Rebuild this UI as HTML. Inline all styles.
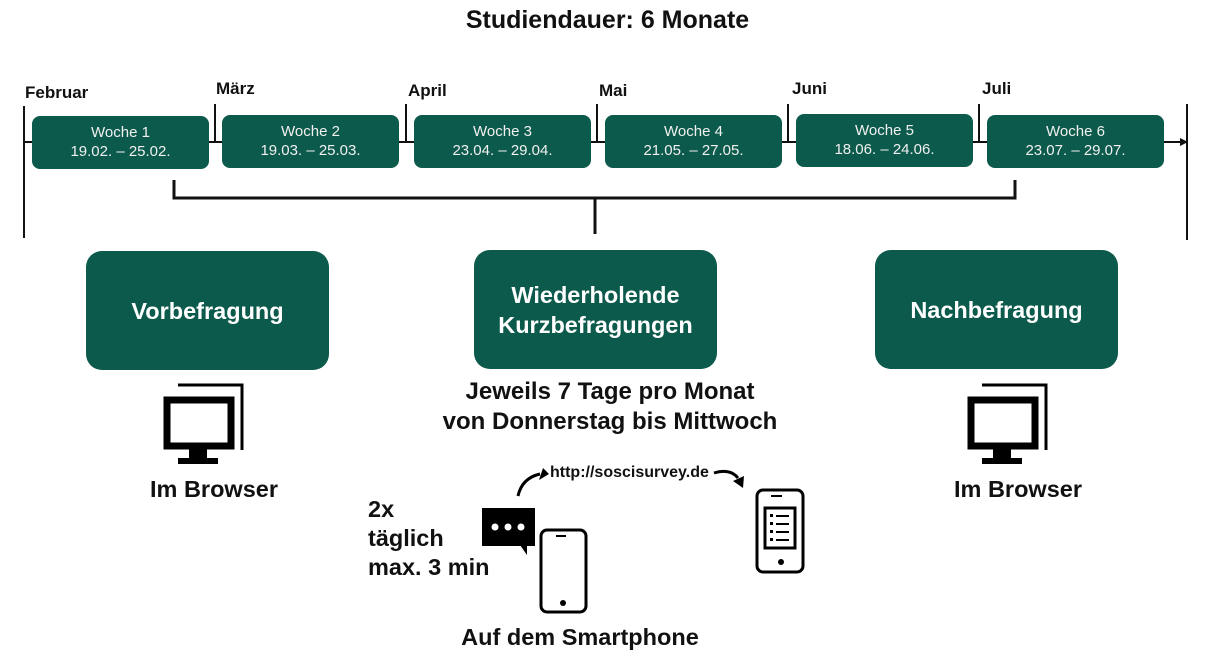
<!DOCTYPE html>
<html><head><meta charset="utf-8"><style>
body{margin:0;width:1215px;height:663px;background:#fff;position:relative;overflow:hidden;font-family:"Liberation Sans",sans-serif;color:#111}
.a{position:absolute}
.w{position:absolute;background:#0c5a4b;border-radius:8px;color:#f0f0f0;font-size:15px;text-align:center;line-height:19px;padding-top:7px;box-sizing:border-box;height:53px;width:177px}
.m{position:absolute;font-weight:bold;font-size:17px}
.B{position:absolute;background:#0c5a4b;border-radius:16px;color:#fff;font-weight:bold;font-size:23.5px;display:flex;align-items:center;justify-content:center;text-align:center;line-height:30px;width:243px;height:119px}
.t{position:absolute;font-weight:bold;font-size:23.5px;text-align:center}
</style></head><body>
<div class="t" style="left:0;width:1215px;top:6px;font-size:25px">Studiendauer: 6 Monate</div>
<svg class="a" style="left:0;top:0" width="1215" height="663">
<g stroke="#111" stroke-width="2" fill="none">
<line x1="24" y1="142" x2="1180" y2="142"/>
<line x1="24" y1="106" x2="24" y2="238"/>
<line x1="1187" y1="104" x2="1187" y2="240"/>
<line x1="215" y1="104" x2="215" y2="142"/>
<line x1="406" y1="104" x2="406" y2="142"/>
<line x1="597" y1="104" x2="597" y2="142"/>
<line x1="788" y1="104" x2="788" y2="142"/>
<line x1="979" y1="104" x2="979" y2="142"/>
<polyline stroke-width="3" points="174,180 174,198 1015,198 1015,180"/>
<line stroke-width="3" x1="595" y1="198" x2="595" y2="234"/>
</g>
<polygon points="1188,142 1180,138 1180,146" fill="#111"/>
<g id="mon">
<path d="M178,385 H242 V450" stroke="#000" stroke-width="3" fill="none"/>
<rect x="167" y="400" width="64" height="46" fill="none" stroke="#000" stroke-width="7"/>
<rect x="189" y="449" width="18" height="10" fill="#000"/>
<rect x="178" y="458" width="40" height="6" fill="#000"/>
</g>
<use href="#mon" x="804" y="0"/>
<rect x="482" y="508" width="53" height="38" fill="#000"/>
<polygon points="520,545 527,545 527,555" fill="#000"/>
<circle cx="495" cy="527" r="3.5" fill="#fff"/><circle cx="508" cy="527" r="3.5" fill="#fff"/><circle cx="521" cy="527" r="3.5" fill="#fff"/>
<rect x="541" y="530" width="45" height="82" rx="6" fill="none" stroke="#000" stroke-width="3"/>
<line x1="556" y1="536" x2="566" y2="536" stroke="#000" stroke-width="2"/>
<circle cx="563" cy="603" r="3" fill="#000"/>
<rect x="757" y="490" width="46" height="82" rx="6" fill="none" stroke="#000" stroke-width="3"/>
<line x1="771" y1="496" x2="782" y2="496" stroke="#000" stroke-width="2"/>
<circle cx="781" cy="562" r="3" fill="#000"/>
<rect x="765" y="508" width="30" height="40" fill="none" stroke="#000" stroke-width="3"/>
<g fill="#000"><rect x="770" y="514" width="3" height="3"/><rect x="770" y="522" width="3" height="3"/><rect x="770" y="530" width="3" height="3"/><rect x="770" y="538" width="3" height="3"/>
<rect x="776" y="515" width="13" height="2"/><rect x="776" y="523" width="13" height="2"/><rect x="776" y="531" width="13" height="2"/><rect x="776" y="539" width="13" height="2"/></g>
<path d="M518,496 Q522,478 540,474" stroke="#000" stroke-width="3" fill="none"/>
<polygon points="543,468 549,474 539,480" fill="#000"/>
<path d="M714,473 Q730,468 738,478" stroke="#000" stroke-width="3" fill="none"/>
<polygon points="733,481 744,476 743,488" fill="#000"/>
</svg>
<div class="m" style="left:25px;top:83px">Februar</div>
<div class="m" style="left:216px;top:79px">März</div>
<div class="m" style="left:408px;top:81px">April</div>
<div class="m" style="left:599px;top:81px">Mai</div>
<div class="m" style="left:792px;top:79px">Juni</div>
<div class="m" style="left:982px;top:79px">Juli</div>
<div class="w" style="left:32px;top:116px">Woche 1<br>19.02. – 25.02.</div>
<div class="w" style="left:222px;top:115px">Woche 2<br>19.03. – 25.03.</div>
<div class="w" style="left:414px;top:115px">Woche 3<br>23.04. – 29.04.</div>
<div class="w" style="left:605px;top:115px">Woche 4<br>21.05. – 27.05.</div>
<div class="w" style="left:796px;top:114px">Woche 5<br>18.06. – 24.06.</div>
<div class="w" style="left:987px;top:115px">Woche 6<br>23.07. – 29.07.</div>
<div class="B" style="left:86px;top:251px">Vorbefragung</div>
<div class="B" style="left:474px;top:250px">Wiederholende<br>Kurzbefragungen</div>
<div class="B" style="left:875px;top:250px">Nachbefragung</div>
<div class="t" style="left:410px;width:400px;top:377px;line-height:30px;font-size:24px">Jeweils 7 Tage pro Monat<br>von Donnerstag bis Mittwoch</div>
<div class="t" style="left:114px;width:200px;top:476px">Im Browser</div>
<div class="t" style="left:918px;width:200px;top:476px">Im Browser</div>
<div class="t" style="left:368px;top:495px;text-align:left;line-height:29px;font-size:23.5px">2x<br>täglich<br>max. 3 min</div>
<div class="a" style="left:550px;top:464px;font-weight:bold;font-size:16px">http://soscisurvey.de</div>
<div class="t" style="left:430px;width:300px;top:624px">Auf dem Smartphone</div>
</body></html>
